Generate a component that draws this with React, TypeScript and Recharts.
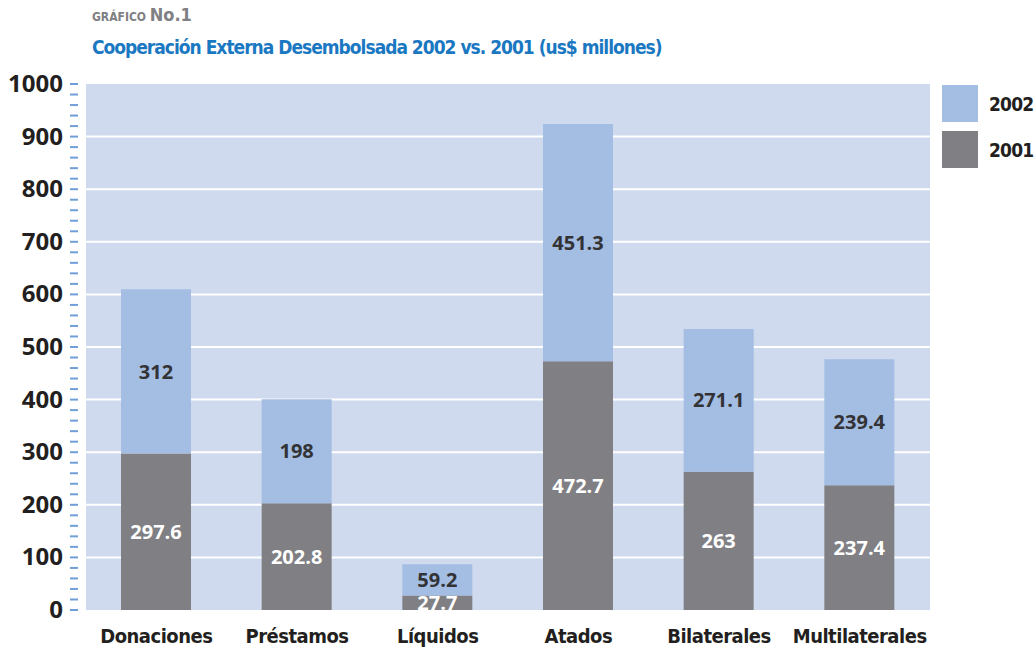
import React from "react";
import { BarChart, Bar, XAxis, YAxis, CartesianGrid, LabelList } from "recharts";

const categories = ["Donaciones", "Préstamos", "Líquidos", "Atados", "Bilaterales", "Multilaterales"];
const values2001 = [297.6, 202.8, 27.7, 472.7, 263, 237.4];
const values2002 = [312, 198, 59.2, 451.3, 271.1, 239.4];
const yTicks = [0, 20, 40, 60, 80, 100, 120, 140, 160, 180, 200, 220, 240, 260, 280, 300, 320, 340, 360, 380, 400, 420, 440, 460, 480, 500, 520, 540, 560, 580, 600, 620, 640, 660, 680, 700, 720, 740, 760, 780, 800, 820, 840, 860, 880, 900, 920, 940, 960, 980, 1000];
const gridLines = [100, 200, 300, 400, 500, 600, 700, 800, 900];

const data = categories.map((name, i) => ({ name, y2001: values2001[i], y2002: values2002[i] }));

const NARROW = "'DejaVu Sans', sans-serif";
const SANS = "'Open Sans', sans-serif";

const C2001 = "#808084";
const C2002 = "#a3bde3";

function YTick(props: any) {
  const { x, y, payload } = props;
  const v = payload.value;
  return (
    <g>
      <line x1={x - 8} x2={x} y1={y} y2={y} stroke="#6f9fd8" strokeWidth={2} />
      {v % 100 === 0 && (
        <text x={x - 15} y={y} dy={8} textAnchor="end" fontFamily={SANS} fontWeight={700} fontSize={24} fill="#231f20">
          {v}
        </text>
      )}
    </g>
  );
}

function Legend() {
  const items = [
    { label: "2002", color: C2002 },
    { label: "2001", color: C2001 },
  ];
  return (
    <div style={{ position: "absolute", left: 942, top: 85 }}>
      {items.map((it) => (
        <div key={it.label} style={{ display: "flex", alignItems: "center", height: 37, marginBottom: 9 }}>
          <div style={{ width: 36, height: 37, background: it.color }} />
          <span style={{ marginLeft: 11, fontFamily: NARROW, fontStretch: "condensed", fontWeight: 700, fontSize: 19, letterSpacing: -0.8, color: "#231f20" }}>{it.label}</span>
        </div>
      ))}
    </div>
  );
}

export default function App() {
  return (
    <div style={{ position: "absolute", left: 0, top: 0, width: 1036, height: 648, background: "#fff", overflow: "hidden" }}>
      <div style={{ position: "absolute", left: 92, top: 4, fontFamily: NARROW, fontStretch: "condensed", fontWeight: 700, color: "#808084" }}>
        <span style={{ fontSize: 12 }}>GRÁFICO </span>
        <span style={{ fontSize: 18 }}>No.1</span>
      </div>
      <div style={{ position: "absolute", left: 92, top: 36, fontFamily: NARROW, fontStretch: "condensed", fontWeight: 700, fontSize: 19, color: "#1a78c2", letterSpacing: -1 }}>
        Cooperación Externa Desembolsada 2002 vs. 2001 (us$ millones)
      </div>
      <div style={{ position: "absolute", left: 0, top: 0 }}>
        <BarChart width={1036} height={648} data={data} margin={{ top: 84, right: 106, bottom: 8, left: 0 }} barSize={70}>
          <CartesianGrid vertical={false} horizontalValues={gridLines} fill="#cfdaee" stroke="#ffffff" strokeWidth={2} />
          <XAxis
            dataKey="name"
            height={30}
            axisLine={false}
            tickLine={false}
            tick={{ fill: "#231f20", fontFamily: NARROW, fontStretch: "condensed", fontWeight: 700, fontSize: 20, letterSpacing: -0.5 }}
            dy={11}
          />
          <YAxis
            width={86}
            domain={[0, 1000]}
            ticks={yTicks}
            interval={0}
            axisLine={false}
            tickLine={false}
            tick={<YTick />}
          />
          <Bar dataKey="y2001" stackId="a" fill={C2001} isAnimationActive={false}>
            <LabelList dataKey="y2001" position="center" fill="#ffffff" fontFamily={SANS} fontWeight={700} fontSize={20} />
          </Bar>
          <Bar dataKey="y2002" stackId="a" fill={C2002} isAnimationActive={false}>
            <LabelList dataKey="y2002" position="center" fill="#333336" fontFamily={SANS} fontWeight={700} fontSize={20} />
          </Bar>
        </BarChart>
      </div>
      <Legend />
    </div>
  );
}
